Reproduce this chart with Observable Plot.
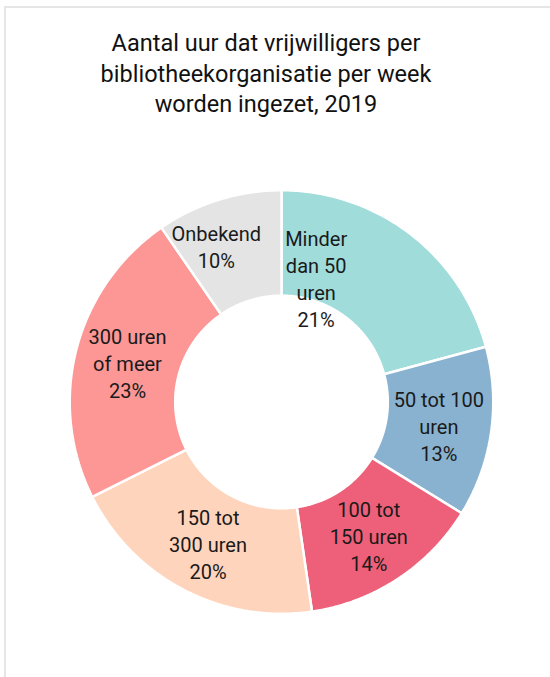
<!DOCTYPE html>
<html>
<head>
<meta charset="utf-8">
<script src="https://cdn.jsdelivr.net/npm/d3@7"></script>
<script src="https://cdn.jsdelivr.net/npm/@observablehq/plot@0.6"></script>
<style>
  html, body { margin: 0; padding: 0; background: #fff; overflow: hidden; }
  body { width: 550px; height: 677px; position: relative; font-family: Roboto, "DejaVu Sans", sans-serif; }
  #frame { position: absolute; left: 4px; top: 6px; width: 560px; height: 700px;
           border-top: 2px solid #e6e6e6; border-left: 2px solid #e6e6e6; box-sizing: border-box; }
  #title { position: absolute; left: 0; top: 28px; width: 532px; text-align: center;
           font-size: 23.5px; line-height: 30.5px; color: #111; }
  #chart { position: absolute; left: 0; top: 140px; }
</style>
</head>
<body>
<div id="frame"></div>
<div id="title">Aantal uur dat vrijwilligers per<br>bibliotheekorganisatie per week<br>worden ingezet, 2019</div>
<div id="chart"></div>
<script>
const categories = ["Minder dan 50 uren", "50 tot 100 uren", "100 tot 150 uren", "150 tot 300 uren", "300 uren of meer", "Onbekend"];
const labelLines = ["Minder\ndan 50\nuren", "50 tot 100\nuren", "100 tot\n150 uren", "150 tot\n300 uren", "300 uren\nof meer", "Onbekend"];
const shares = [20.8, 13.0, 13.9, 19.9, 22.8, 9.6];
const colors = ["#9fdcda", "#89b2d0", "#ee6079", "#ffd4bc", "#fc9796", "#e3e4e3"];

const inner = 0.502;
const total = d3.sum(shares);
const slices = [];
const labels = [];
let acc = 0;
categories.forEach((cat, i) => {
  const a0 = acc / total * 2 * Math.PI;
  acc += shares[i];
  const a1 = acc / total * 2 * Math.PI;
  const n = 120;
  const pts = [];
  for (let k = 0; k <= n; k++) {
    const a = a0 + (a1 - a0) * k / n;
    pts.push({cat, x: Math.sin(a), y: Math.cos(a)});
  }
  for (let k = n; k >= 0; k--) {
    const a = a0 + (a1 - a0) * k / n;
    pts.push({cat, x: inner * Math.sin(a), y: inner * Math.cos(a)});
  }
  pts.push({...pts[0]});
  slices.push(...pts);
  const am = (a0 + a1) / 2, rm = (1 + inner) / 2;
  labels.push({cat, x: rm * Math.sin(am), y: rm * Math.cos(am),
               text: labelLines[i] + "\n" + Math.round(shares[i] / total * 100) + "%"});
});

const R = 211.75, cx = 281, cy = 401.5 - 140;
const W = 550, H = 537;
const textOpts = {x: "x", y: "y", text: "text", fontSize: 20, lineHeight: 1.35, fill: "#1a1a1a",
                  fontFamily: "Roboto, 'DejaVu Sans', sans-serif"};
const chart = Plot.plot({
  width: W, height: H,
  marginLeft: cx - R, marginRight: W - (cx + R),
  marginTop: cy - R, marginBottom: H - (cy + R),
  x: {domain: [-1, 1], axis: null},
  y: {domain: [-1, 1], axis: null},
  color: {domain: categories, range: colors},
  style: {background: "transparent", overflow: "visible"},
  marks: [
    Plot.line(slices, {x: "x", y: "y", z: "cat", fill: "cat", stroke: "white", strokeWidth: 2.5, strokeLinejoin: "miter", curve: "linear"}),
    Plot.text(labels, {...textOpts, filter: d => d.cat !== "Minder dan 50 uren" && d.cat !== "Onbekend"}),
    Plot.text(labels, {...textOpts, filter: d => d.cat === "Minder dan 50 uren", dx: -62, dy: 2}),
    Plot.text(labels, {...textOpts, filter: d => d.cat === "Onbekend", dx: -18, dy: -4})
  ]
});
document.getElementById("chart").append(chart);
</script>
</body>
</html>
